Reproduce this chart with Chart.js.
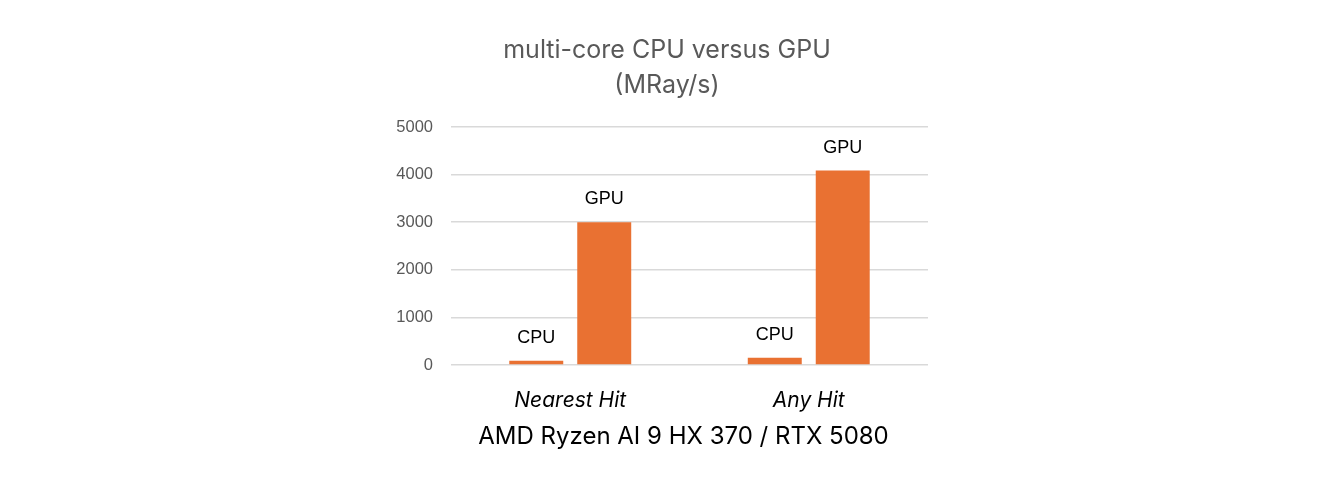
<!DOCTYPE html>
<html>
<head>
<meta charset="utf-8">
<script src="https://cdn.jsdelivr.net/npm/chart.js@4.4.0/dist/chart.umd.min.js"></script>
<style>
html,body{margin:0;padding:0;background:#fff;}
#wrap{width:1324px;height:500px;position:relative;}
</style>
</head>
<body>
<div id="wrap"><canvas id="c" width="1324" height="500"></canvas></div>
<script>
const categories = ["Nearest Hit", "Any Hit"];
const seriesNames = ["CPU", "GPU"];
const cpuValues = [90, 150];
const gpuValues = [3000, 4085];
const titleLines = ["multi-core CPU versus GPU", "(MRay/s)"];
const xAxisTitle = "AMD Ryzen AI 9 HX 370 / RTX 5080";
const yMin = 0, yMax = 5000, yStep = 1000;

const barColor = "#E97132";

const labelPlugin = {
  id: 'seriesLabels',
  afterDatasetsDraw(chart) {
    const ctx = chart.ctx;
    ctx.save();
    ctx.font = '18px "Liberation Sans", Arial, sans-serif';
    ctx.fillStyle = '#000';
    ctx.textAlign = 'center';
    ctx.textBaseline = 'middle';
    chart.data.datasets.forEach((ds, i) => {
      const meta = chart.getDatasetMeta(i);
      meta.data.forEach(bar => {
        ctx.fillText(ds.label, bar.x, bar.y - 23);
      });
    });
    ctx.restore();
  }
};

const titlePlugin = {
  id: 'customTitle',
  afterDraw(chart) {
    const ctx = chart.ctx;
    ctx.save();
    ctx.textAlign = 'center';
    ctx.textBaseline = 'middle';
    ctx.font = '25px Inter, "Open Sans", sans-serif';
    ctx.fillStyle = '#595959';
    ctx.fillText(titleLines[0], 667, 50);
    ctx.fillText(titleLines[1], 667, 85);
    ctx.font = '24px Inter, "Open Sans", sans-serif';
    ctx.fillStyle = '#000';
    ctx.fillText(xAxisTitle, 683.5, 437);
    ctx.restore();
  }
};

new Chart(document.getElementById('c'), {
  type: 'bar',
  data: {
    labels: categories,
    datasets: [
      { label: seriesNames[0], data: cpuValues, backgroundColor: barColor },
      { label: seriesNames[1], data: gpuValues, backgroundColor: barColor }
    ]
  },
  options: {
    responsive: false,
    animation: false,
    devicePixelRatio: 1,
    categoryPercentage: 0.57,
    barPercentage: 0.794,
    layout: { padding: { left: 0, right: 396, top: 127, bottom: 48 } },
    plugins: {
      legend: { display: false },
      tooltip: { enabled: false },
      title: { display: false }
    },
    scales: {
      x: {
        afterFit(scale) { scale.height = 87; },
        grid: { display: false, drawTicks: false },
        border: { display: false },
        ticks: {
          color: '#000',
          font: { family: 'Inter, "Open Sans", sans-serif', size: 21, style: 'italic' },
          padding: 23
        },
        title: { display: false }
      },
      y: {
        min: yMin, max: yMax,
        afterFit(scale) { scale.width = 451; },
        grid: { color: '#d9d9d9', lineWidth: 1.5, drawTicks: false },
        border: { display: false },
        ticks: {
          stepSize: yStep,
          color: '#595959',
          font: { family: '"Liberation Sans", Arial, sans-serif', size: 16.5 },
          padding: 18,
          callback: (v) => String(v)
        }
      }
    }
  },
  plugins: [labelPlugin, titlePlugin]
});
</script>
</body>
</html>
